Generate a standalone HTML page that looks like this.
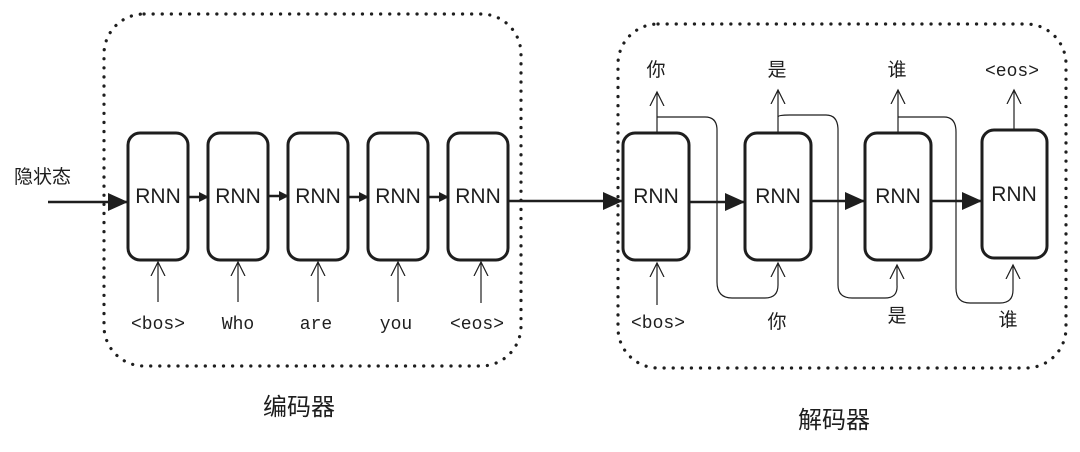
<!DOCTYPE html>
<html><head><meta charset="utf-8"><style>
html,body{margin:0;padding:0;background:#fff;}
svg{display:block}
text{font-family:"Liberation Sans","Noto Sans CJK SC",sans-serif;fill:#1e1e1e}
.m text{font-family:"Liberation Mono","Noto Sans CJK SC",monospace;font-size:18px}
.r text{font-size:21px}
.c text{font-size:19px}
</style></head><body>
<svg width="1080" height="452" viewBox="0 0 1080 452" xmlns="http://www.w3.org/2000/svg">
<defs>
<marker id="big" markerWidth="10" markerHeight="10" refX="9" refY="5" orient="auto" markerUnits="userSpaceOnUse"><path d="M0,0 L10,5 L0,10 z" fill="#1e1e1e"/></marker>
<marker id="bg2" markerWidth="20" markerHeight="18" refX="19" refY="9" orient="auto" markerUnits="userSpaceOnUse"><path d="M0,0 L20,9 L0,18 z" fill="#1e1e1e"/></marker>
<marker id="open" markerWidth="16" markerHeight="16" refX="14" refY="8" orient="auto" markerUnits="userSpaceOnUse"><path d="M0,1 L14,8 L0,15" fill="none" stroke="#1e1e1e" stroke-width="1.2"/></marker>
</defs>
<g fill="none" stroke="#1e1e1e" stroke-width="3.2" stroke-linecap="round" stroke-dasharray="0.1 9">
<rect x="104" y="14" width="417" height="352" rx="40"/>
<rect x="618" y="24" width="448" height="344" rx="40"/>
</g>
<g class="c"><text x="14" y="183">隐状态</text></g>
<text x="263" y="415" style="font-size:24px">编码器</text>
<text x="798" y="428" style="font-size:24px">解码器</text>
<g fill="none" stroke="#1e1e1e" stroke-width="3">
<rect x="128" y="133" width="60" height="127" rx="12"/>
<rect x="208" y="133" width="60" height="127" rx="12"/>
<rect x="288" y="133" width="60" height="127" rx="12"/>
<rect x="368" y="133" width="60" height="127" rx="12"/>
<rect x="448" y="133" width="60" height="127" rx="12"/>
<rect x="623" y="133" width="66" height="127" rx="12"/>
<rect x="745" y="133" width="66" height="127" rx="12"/>
<rect x="865" y="133" width="66" height="127" rx="12"/>
<rect x="982" y="130" width="65" height="128" rx="12"/>
</g>
<g class="r" text-anchor="middle">
<text x="158" y="203">RNN</text><text x="238" y="203">RNN</text><text x="318" y="203">RNN</text><text x="398" y="203">RNN</text><text x="478" y="203">RNN</text>
<text x="656" y="203">RNN</text><text x="778" y="203">RNN</text><text x="898" y="203">RNN</text><text x="1014" y="201">RNN</text>
</g>
<g stroke="#1e1e1e" stroke-width="2.5" fill="none">
<line x1="48" y1="202" x2="127" y2="202" marker-end="url(#bg2)"/>
<line x1="188" y1="197" x2="208" y2="197" marker-end="url(#big)"/>
<line x1="268" y1="196" x2="288" y2="196" marker-end="url(#big)"/>
<line x1="348" y1="197" x2="368" y2="197" marker-end="url(#big)"/>
<line x1="428" y1="197" x2="448" y2="197" marker-end="url(#big)"/>
<line x1="508" y1="201" x2="622" y2="201" marker-end="url(#bg2)"/>
<line x1="689" y1="202" x2="744" y2="202" marker-end="url(#bg2)"/>
<line x1="811" y1="201" x2="864" y2="201" marker-end="url(#bg2)"/>
<line x1="931" y1="201" x2="981" y2="201" marker-end="url(#bg2)"/>
</g>
<g stroke="#1e1e1e" stroke-width="1.2" fill="none">
<line x1="158" y1="302" x2="158" y2="262" marker-end="url(#open)"/>
<line x1="238" y1="302" x2="238" y2="262" marker-end="url(#open)"/>
<line x1="318" y1="302" x2="318" y2="262" marker-end="url(#open)"/>
<line x1="398" y1="302" x2="398" y2="262" marker-end="url(#open)"/>
<line x1="481" y1="303" x2="481" y2="262" marker-end="url(#open)"/>
<line x1="657" y1="305" x2="657" y2="263" marker-end="url(#open)"/>
<line x1="657" y1="132" x2="657" y2="92" marker-end="url(#open)"/>
<line x1="778" y1="132" x2="778" y2="90" marker-end="url(#open)"/>
<line x1="898" y1="132" x2="898" y2="90" marker-end="url(#open)"/>
<line x1="1014" y1="129" x2="1014" y2="90" marker-end="url(#open)"/>
<path d="M657,117 H705 Q717,117 717,130 V282 Q717,298 732,298 H765 Q778,298 778,285 V263" marker-end="url(#open)"/>
<path d="M778,117 Q778,115 790,115 H826 Q838,115 838,130 V285 Q838,298 852,298 H885 Q898,298 897,285 V265" marker-end="url(#open)"/>
<path d="M898,117 H944 Q956,117 956,132 V288 Q956,303 970,303 H1000 Q1013,303 1013,290 V265" marker-end="url(#open)"/>
</g>
<g class="m" text-anchor="middle">
<text x="158" y="329">&lt;bos&gt;</text>
<text x="238" y="329">Who</text>
<text x="316" y="329">are</text>
<text x="396" y="329">you</text>
<text x="477" y="329">&lt;eos&gt;</text>
<text x="658" y="328">&lt;bos&gt;</text>
<text x="1012" y="76">&lt;eos&gt;</text>
</g>
<g class="c" text-anchor="middle">
<text x="656" y="76">你</text><text x="777" y="76">是</text><text x="897" y="76">谁</text>
<text x="777" y="328">你</text><text x="897" y="322">是</text><text x="1008" y="326">谁</text>
</g>
</svg>
</body></html>
